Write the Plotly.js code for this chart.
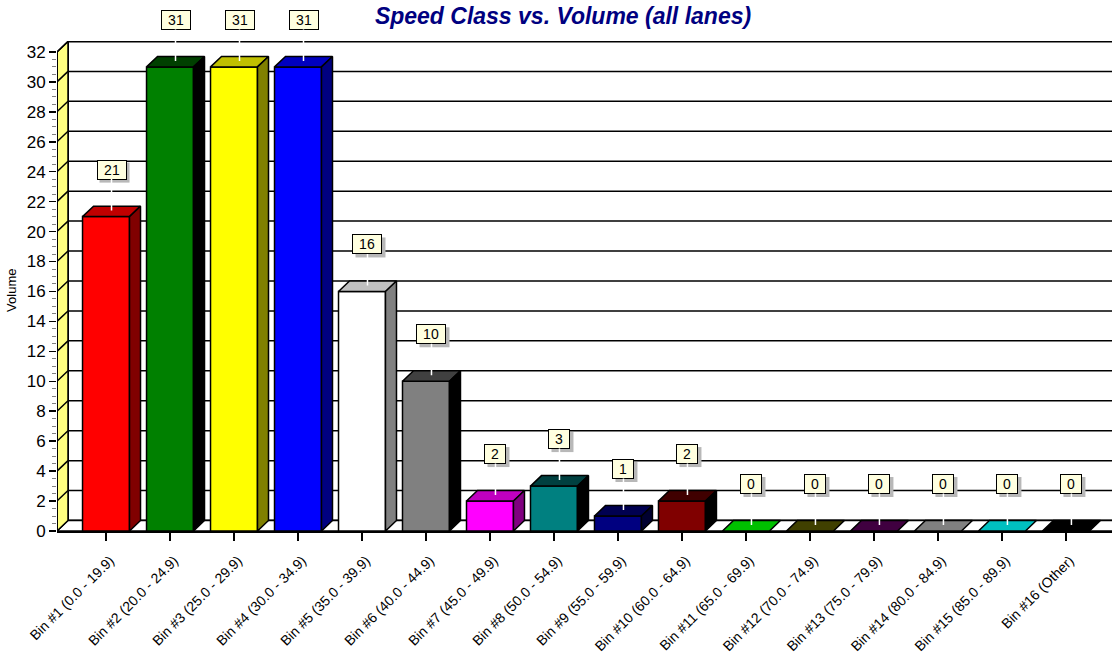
<!DOCTYPE html>
<html>
<head>
<meta charset="utf-8">
<script src="https://cdn.plot.ly/plotly-3.0.1.min.js"></script>
<style>html,body{margin:0;padding:0;background:#fff;}#chart{width:1112px;height:654px;}</style>
</head>
<body>
<div id="chart"></div>
<script>
// ---- data ----
const categories = [
  "Bin #1 (0.0 - 19.9)", "Bin #2 (20.0 - 24.9)", "Bin #3 (25.0 - 29.9)", "Bin #4 (30.0 - 34.9)",
  "Bin #5 (35.0 - 39.9)", "Bin #6 (40.0 - 44.9)", "Bin #7 (45.0 - 49.9)", "Bin #8 (50.0 - 54.9)",
  "Bin #9 (55.0 - 59.9)", "Bin #10 (60.0 - 64.9)", "Bin #11 (65.0 - 69.9)", "Bin #12 (70.0 - 74.9)",
  "Bin #13 (75.0 - 79.9)", "Bin #14 (80.0 - 84.9)", "Bin #15 (85.0 - 89.9)", "Bin #16 (Other)"
];
const volumes = [21, 31, 31, 31, 16, 10, 2, 3, 1, 2, 0, 0, 0, 0, 0, 0];
const yTicks = [0,2,4,6,8,10,12,14,16,18,20,22,24,26,28,30,32];

// ---- styles ----
const frontColors = ["#ff0000","#008000","#ffff00","#0000ff","#ffffff","#808080","#ff00ff","#008080",
                     "#000080","#800000","#00c000","#404000","#400040","#808080","#00c0c0","#000000"];
const topColors   = ["#c00000","#004000","#c0c000","#0000c0","#c0c0c0","#404040","#c000c0","#004040",
                     "#000050","#400000","#00c000","#404000","#400040","#808080","#00c0c0","#000000"];
const sideColors  = ["#800000","#000000","#808000","#000080","#808080","#000000","#800080","#000000",
                     "#000030","#000000","#008000","#202000","#200020","#404040","#008080","#000000"];

const FONT = 'Arial, "Liberation Sans", sans-serif';
const BW = 0.734;       // bar width (category units)
const DX = 0.172;       // depth offset x (category units)
const DY = 0.70;        // depth offset y (value units)
const X0 = -0.766, X1 = 15.72;
const YMAX = 32, YTOP = 32.73;

const n = categories.length;
const idx = categories.map((_, i) => i);

const traces = [];
// front faces
traces.push({
  type: 'bar', x: idx, y: volumes, width: BW,
  marker: {color: frontColors, line: {color: '#000', width: 1.5}},
  hoverinfo: 'skip'
});
// top and side faces
for (let i = 0; i < n; i++) {
  const v = volumes[i];
  const l = i - BW/2, r = i + BW/2;
  traces.push({
    type: 'scatter', mode: 'lines', fill: 'toself', fillcolor: topColors[i],
    x: [l, l+DX, r+DX, r, l], y: [v, v+DY, v+DY, v, v],
    line: {color: '#000', width: 1.5}, hoverinfo: 'skip', showlegend: false
  });
  if (v > 0) {
    traces.push({
      type: 'scatter', mode: 'lines', fill: 'toself', fillcolor: sideColors[i],
      x: [r, r, r+DX, r+DX, r], y: [0, v, v+DY, DY, 0],
      line: {color: '#000', width: 1.5}, hoverinfo: 'skip', showlegend: false
    });
  }
}

// walls, floor, grid
const shapes = [];
shapes.push({type:'rect', xref:'x', yref:'y', x0:X0+DX, x1:X1+1, y0:DY, y1:YMAX+DY,
  fillcolor:'#fff', line:{color:'#000', width:2}, layer:'below'});
shapes.push({type:'path', xref:'x', yref:'y',
  path:`M${X0},0 L${X0+DX},${DY} L${X1+1},${DY} L${X1+1},0 Z`,
  fillcolor:'#fff', line:{color:'#000', width:1.5}, layer:'below'});
shapes.push({type:'path', xref:'x', yref:'y',
  path:`M${X0},0 L${X0+DX},${DY} L${X0+DX},${YMAX+DY} L${X0},${YMAX} Z`,
  fillcolor:'#ffff80', line:{color:'#000', width:1.5}, layer:'below'});
yTicks.forEach(t => {
  if (t > 0 && t < YMAX) {
    shapes.push({type:'line', xref:'x', yref:'y', x0:X0+DX, x1:X1+1, y0:t+DY, y1:t+DY,
      line:{color:'#000', width:1.5}, layer:'below'});
  }
  if (t > 0) {
    shapes.push({type:'line', xref:'x', yref:'y', x0:X0, x1:X0+DX, y0:t, y1:t+DY,
      line:{color:'#000', width:1.5}, layer:'below'});
  }
});
// front left edge (y axis line)
shapes.push({type:'line', xref:'x', yref:'y', x0:X0, x1:X0, y0:0, y1:YMAX,
  line:{color:'#000', width:2}, layer:'above'});

// value labels (box + drop shadow)
const annotations = [];
const LBL_DX = 5.5, LBL_DY = 47, BOX_H = 14, PAD = 2;
volumes.forEach((v, i) => {
  const L = String(v).length;
  const w = L * 8 + 8;
  const W = w + 2*PAD + 2, H = BOX_H + 2*PAD + 2;
  const cx = LBL_DX + 3, cy = LBL_DY - 3;
  shapes.push({type:'rect', xref:'x', yref:'y', xsizemode:'pixel', ysizemode:'pixel',
    xanchor:i, yanchor:v, x0:cx - W/2, x1:cx + W/2, y0:cy - H/2, y1:cy + H/2,
    fillcolor:'#b8b8b8', line:{width:0}, layer:'above'});
  annotations.push({x:i, y:v, xref:'x', yref:'y', text:String(v), showarrow:true,
    ax:0, ay:-(LBL_DY-6), arrowcolor:'#fff', arrowwidth:1.5, arrowhead:0, standoff:0,
    xshift:LBL_DX, yshift:6, bgcolor:'#ffffe0', bordercolor:'#000', borderwidth:1, borderpad:PAD,
    width:w, height:BOX_H, font:{family:FONT, size:14, color:'#000'}});
});
annotations.push({xref:'paper', yref:'paper', x:(12-57)/1055, y:0.49, text:'Volume',
  showarrow:false, textangle:-90, xanchor:'center', yanchor:'middle',
  font:{family:FONT, size:13, color:'#000'}});

const minorVals = [];
for (let k = 0; k < 64; k++) { if (k % 4 !== 0) minorVals.push(k/2); }

const layout = {
  width: 1112, height: 654,
  margin: {l:57, r:0, t:41, b:123},
  paper_bgcolor: '#fff', plot_bgcolor: '#fff',
  showlegend: false,
  title: {text:'<b><i>Speed Class vs. Volume (all lanes)</i></b>', x: 563/1112, xref:'container',
    y: 1 - 16/654, yref:'container', xanchor:'center', yanchor:'middle',
    font:{family:FONT, size:23, color:'#000080'}},
  xaxis: {range:[X0, X1], tickmode:'array', tickvals: idx, ticktext: categories,
    tickangle:-45, ticks:'outside', ticklen:8, tickwidth:1.5, tickcolor:'#000',
    ticklabelstandoff:6, ticklabelshift:4,
    showline:true, linecolor:'#000', linewidth:2, showgrid:false, zeroline:false,
    tickfont:{family:FONT, size:14, color:'#000'}, automargin:false, fixedrange:true},
  yaxis: {range:[0, YTOP], tickmode:'array', tickvals: yTicks, ticks:'outside', ticklen:7,
    tickwidth:1.5, tickcolor:'#000', showline:false, showgrid:false, zeroline:false,
    minor:{tickmode:'array', tickvals:minorVals, ticks:'outside', ticklen:4, tickcolor:'#808080', tickwidth:1, showgrid:false},
    tickfont:{family:FONT, size:17, color:'#000'}, automargin:false, fixedrange:true},
  shapes: shapes,
  annotations: annotations
};

Plotly.newPlot('chart', traces, layout, {displayModeBar:false, staticPlot:true});
</script>
</body>
</html>
